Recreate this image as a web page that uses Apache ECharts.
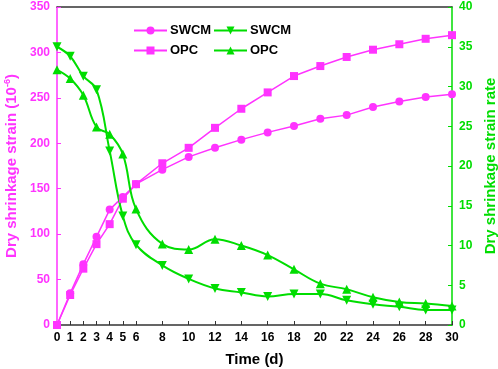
<!DOCTYPE html>
<html>
<head>
<meta charset="utf-8">
<script src="https://cdn.jsdelivr.net/npm/echarts@6/dist/echarts.min.js"></script>
<style>
  html, body { margin: 0; padding: 0; background: #fff; }
  #chart { width: 498px; height: 369px; }
</style>
</head>
<body>
<div id="chart"></div>
<script>
// time (d)
const days = [0, 1, 2, 3, 4, 5, 6, 8, 10, 12, 14, 16, 18, 20, 22, 24, 26, 28, 30];
const tickDays = [0, 1, 2, 3, 4, 5, 6, 8, 10, 12, 14, 16, 18, 20, 22, 24, 26, 28, 30];
// dry shrinkage strain (10^-6)
const strainSWCM = [0, 35, 67, 97, 127, 141, 155, 171, 185, 195, 204, 212, 219, 227, 231, 240, 246, 251, 254];
const strainOPC = [0, 33, 62, 89, 111, 139, 155, 178, 195, 217, 238, 256, 274, 285, 295, 303, 309, 315, 319];
// dry shrinkage strain rate
const rateSWCM = [35.0, 33.8, 31.3, 29.6, 21.9, 13.7, 10.1, 7.5, 5.8, 4.6, 4.1, 3.6, 3.9, 3.9, 3.1, 2.6, 2.3, 1.9, 1.9];
const rateOPC = [32.1, 31.0, 28.9, 24.9, 24.0, 21.5, 14.6, 10.2, 9.5, 10.8, 10.0, 8.8, 7.0, 5.2, 4.5, 3.5, 2.9, 2.7, 2.4];

const pink = '#ff33ff';
const green = '#00dd00';
const font = 'Liberation Sans, Arial, sans-serif';

const pairs = (ys) => days.map((d, i) => [d, ys[i]]);

const legendBase = {
  orient: 'vertical', top: 24, padding: 0,
  itemWidth: 33, itemHeight: 10, itemGap: 7,
  formatter: (n) => n.split('_')[0],
  textStyle: { fontSize: 13, fontWeight: 'bold', color: '#000', padding: [0, 0, 0, -2] }
};

const chart = echarts.init(document.getElementById('chart'));
chart.setOption({
  animation: false,
  textStyle: { fontFamily: font },
  grid: { left: 57, right: 46, top: 7, bottom: 44, outerBoundsMode: 'none' },
  legend: [
    Object.assign({ data: ['SWCM_s', 'OPC_s'], left: 133 }, legendBase),
    Object.assign({ data: ['SWCM_r', 'OPC_r'], left: 213 }, legendBase)
  ],
  xAxis: [
    {
      type: 'value', min: 0, max: 30,
      name: 'Time (d)', nameLocation: 'middle', nameGap: 27,
      nameTextStyle: { fontSize: 15, fontWeight: 'bold', color: '#000' },
      axisLine: { onZero: false, lineStyle: { color: '#333', width: 1.5 } },
      axisTick: { inside: true, length: 4, customValues: tickDays, lineStyle: { color: '#333' } },
      axisLabel: { customValues: tickDays, margin: 7, fontSize: 12, fontWeight: 'bold', color: '#000' },
      splitLine: { show: false }
    },
    {
      type: 'value', min: 0, max: 30, position: 'top',
      axisLine: { show: true, onZero: false, lineStyle: { color: '#333', width: 1.5 } },
      axisTick: { show: false }, axisLabel: { show: false }, splitLine: { show: false }
    }
  ],
  yAxis: [
    {
      type: 'value', min: 0, max: 350, interval: 50, position: 'left',
      name: '{a|Dry shrinkage strain (10}{s|-6}{a|)}',
      nameLocation: 'middle', nameGap: 37,
      nameTextStyle: {
        rich: {
          a: { fontSize: 15, fontWeight: 'bold', color: pink, fontFamily: font },
          s: { fontSize: 9, fontWeight: 'bold', color: pink, fontFamily: font, verticalAlign: 'top', padding: [0, 0, 8, 0] }
        }
      },
      axisLine: { show: true, onZero: false, lineStyle: { color: pink, width: 1.5 } },
      axisTick: { show: true, inside: true, length: 4, lineStyle: { color: pink } },
      axisLabel: { margin: 7, fontSize: 12, fontWeight: 'bold', color: pink },
      splitLine: { show: false }
    },
    {
      type: 'value', min: 0, max: 40, interval: 5, position: 'right',
      name: 'Dry shrinkage strain rate',
      nameLocation: 'middle', nameGap: 29, nameRotate: 90,
      nameTextStyle: { fontSize: 15, fontWeight: 'bold', color: green },
      axisLine: { show: true, onZero: false, lineStyle: { color: green, width: 1.5 } },
      axisTick: { show: true, inside: true, length: 4, lineStyle: { color: green } },
      axisLabel: { margin: 7, fontSize: 12, fontWeight: 'bold', color: green },
      splitLine: { show: false }
    }
  ],
  series: [
    {
      name: 'SWCM_s', type: 'line', yAxisIndex: 0,
      symbol: 'circle', symbolSize: 8,
      itemStyle: { color: pink }, lineStyle: { color: pink, width: 1.5 },
      data: pairs(strainSWCM)
    },
    {
      name: 'OPC_s', type: 'line', yAxisIndex: 0,
      symbol: 'rect', symbolSize: 8,
      itemStyle: { color: pink }, lineStyle: { color: pink, width: 1.5 },
      data: pairs(strainOPC)
    },
    {
      name: 'SWCM_r', type: 'line', yAxisIndex: 1, smooth: 0.4,
      symbol: 'triangle', symbolRotate: 180, symbolSize: 9,
      itemStyle: { color: green }, lineStyle: { color: green, width: 2 },
      data: pairs(rateSWCM)
    },
    {
      name: 'OPC_r', type: 'line', yAxisIndex: 1, smooth: 0.4,
      symbol: 'triangle', symbolSize: 9,
      itemStyle: { color: green }, lineStyle: { color: green, width: 2 },
      data: pairs(rateOPC)
    }
  ]
});
</script>
</body>
</html>
